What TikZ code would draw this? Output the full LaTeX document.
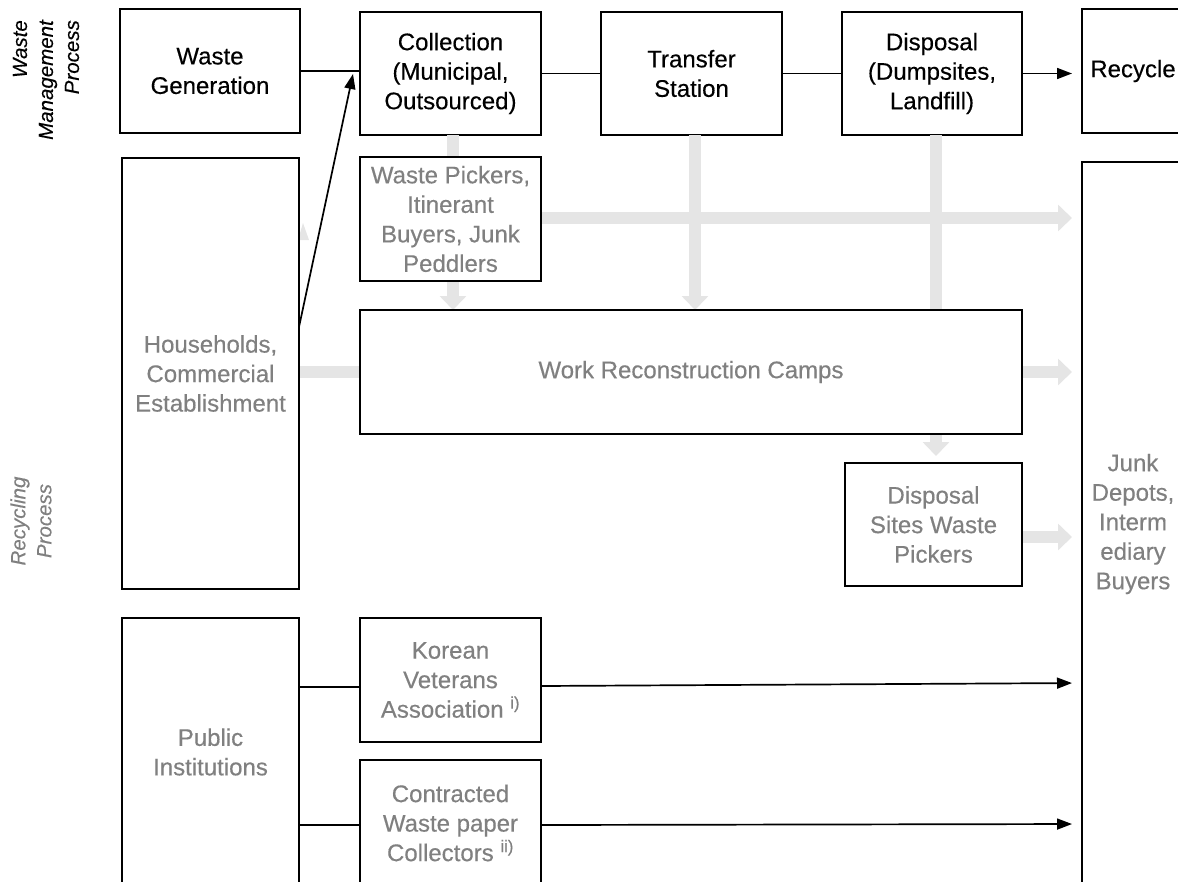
\documentclass[tikz,border=0pt]{standalone}
\usepackage{fontspec}
\setmainfont{Liberation Sans}
\usetikzlibrary{arrows.meta}
\definecolor{txtgray}{RGB}{128,128,128}
\definecolor{flowgray}{RGB}{229,229,229}
\tikzset{
  box/.style={draw=black, line width=1.3pt, fill=white, inner sep=0pt, outer sep=0pt,
              align=center, font=\fontsize{24}{29.5}\selectfont\addfontfeature{FakeBold=0.35}},
  mainbox/.style={box, text=black},
  graybox/.style={box, text=txtgray},
  garrow/.style={draw=flowgray, line width=12pt, -{Triangle[width=26pt,length=14pt]}},
  barrow/.style={draw=black, line width=1.7pt, -{Triangle[width=11pt,length=15pt]}},
  bline/.style={draw=black, line width=1.7pt},
  sidelabel/.style={font=\itshape\fontsize{20.5}{26}\selectfont\addfontfeature{FakeBold=0.3}, rotate=90, inner sep=0pt}
}
\begin{document}
\begin{tikzpicture}[x=1pt, y=-1pt]
\useasboundingbox (0,0) rectangle (1178,881);

% side labels
\node[sidelabel, anchor=east, align=right, text=black] (wmp) at (46,20) {Waste\\Management\\Process};
\node[sidelabel, align=center, text=txtgray] (rp) at (31,521) {Recycling\\Process};

% upper row
\path
  (210,71)    node[mainbox, minimum width=180pt, minimum height=124pt] (wg) {Waste\\Generation}
  (450.5,73.5) node[mainbox, minimum width=181pt, minimum height=123pt] (col) {Collection\\(Municipal,\\Outsourced)}
  (691.5,73.5) node[mainbox, minimum width=181pt, minimum height=123pt] (ts) {Transfer\\Station}
  (932,73.5)  node[mainbox, minimum width=180pt, minimum height=123pt] (disp) {Disposal\\(Dumpsites,\\Landfill)}
  (1133,71)   node[mainbox, minimum width=102pt, minimum height=124pt] (rec) {Recycle};

% positions of lower boxes
\path
  (210.5,373.5) coordinate (hhc)
  (450.5,219)   coordinate (wpc)
  (691,372)     coordinate (wrcc)
  (933.5,524.5) coordinate (dswpc)
  (1133,524)    coordinate (jdc)
  (210.5,752)   coordinate (pic)
  (450.5,680)   coordinate (kvac)
  (450.5,823)   coordinate (cwpc);

% anchor shapes for the gray arrows
\node[box, draw=none, fill=none, minimum width=177pt, minimum height=431pt] (hh0) at (hhc) {};
\node[box, draw=none, fill=none, minimum width=181pt, minimum height=124pt] (wp0) at (wpc) {};
\node[box, draw=none, fill=none, minimum width=662pt, minimum height=124pt] (wrc0) at (wrcc) {};
\node[box, draw=none, fill=none, minimum width=177pt, minimum height=123pt] (dswp0) at (dswpc) {};
\node[box, draw=none, fill=none, minimum width=102pt, minimum height=724pt] (jd0) at (jdc) {};

% gray flow arrows (behind boxes)
\fill[flowgray] (298,240) -- (303,223) -- (309,240) -- cycle;
\draw[garrow] ([xshift=2.5pt]col.south) -- ([xshift=2.5pt]col.south |- wrc0.north);
\draw[garrow] ([xshift=3.5pt]ts.south) -- ([xshift=3.5pt]ts.south |- wrc0.north);
\draw[garrow, shorten >=7pt] ([xshift=4pt]disp.south) -- ([xshift=4pt]disp.south |- dswp0.north);
\draw[garrow, shorten >=10pt] ([yshift=1pt]wp0.east) -- ([yshift=1pt]wp0.east -| jd0.west);
\draw[garrow, shorten >=10pt] ([yshift=1.5pt]hh0.east) -- ([yshift=1.5pt]hh0.east -| jd0.west);
\draw[garrow, shorten >=10pt] ([yshift=-12.5pt]dswp0.east) -- ([yshift=-12.5pt]dswp0.east -| jd0.west);

% lower boxes
\node[graybox, minimum width=177pt, minimum height=431pt] (hh) at (hhc) {Households,\\Commercial\\Establishment};
\node[graybox, minimum width=181pt, minimum height=124pt] (wp) at (wpc) {Waste Pickers,\\Itinerant\\Buyers, Junk\\Peddlers};
\node[graybox, minimum width=662pt, minimum height=124pt] (wrc) at (wrcc) {Work Reconstruction Camps};
\node[graybox, minimum width=177pt, minimum height=123pt] (dswp) at (dswpc) {Disposal\\Sites Waste\\Pickers};
\node[graybox, minimum width=102pt, minimum height=724pt] (jd) at (jdc) {Junk\\Depots,\\Interm\\ediary\\Buyers};
\node[graybox, minimum width=177pt, minimum height=268pt] (pi) at (pic) {Public\\Institutions};
\node[graybox, minimum width=181pt, minimum height=124pt] (kva) at (kvac) {Korean\\Veterans\\Association \textsuperscript{i)}};
\node[graybox, minimum width=181pt, minimum height=126pt] (cwp) at (cwpc) {Contracted\\Waste paper\\Collectors \textsuperscript{ii)}};

% black connectors
\draw[bline] (wg.east) -- (wg.east -| col.west);
\draw[bline] (col.east) -- (col.east -| ts.west);
\draw[bline] (ts.east) -- (ts.east -| disp.west);
\draw[barrow, shorten >=10pt] (disp.east) -- (disp.east -| rec.west);
\draw[barrow] ([yshift=46.5pt]hh.east) -- ([xshift=-7pt,yshift=-0.5pt]col.west);
\draw[bline] ([yshift=65pt]pi.east) -- ([yshift=65pt]pi.east -| kva.west);
\draw[barrow, shorten >=10pt] ([yshift=-6pt]kva.east) -- ([yshift=-159pt]jd.west);
\draw[bline] ([yshift=-73pt]pi.east) -- ([yshift=-73pt]pi.east -| cwp.west);
\draw[barrow, shorten >=10pt] ([yshift=-2pt]cwp.east) -- ([yshift=-300pt]jd.west);
\end{tikzpicture}
\end{document}
